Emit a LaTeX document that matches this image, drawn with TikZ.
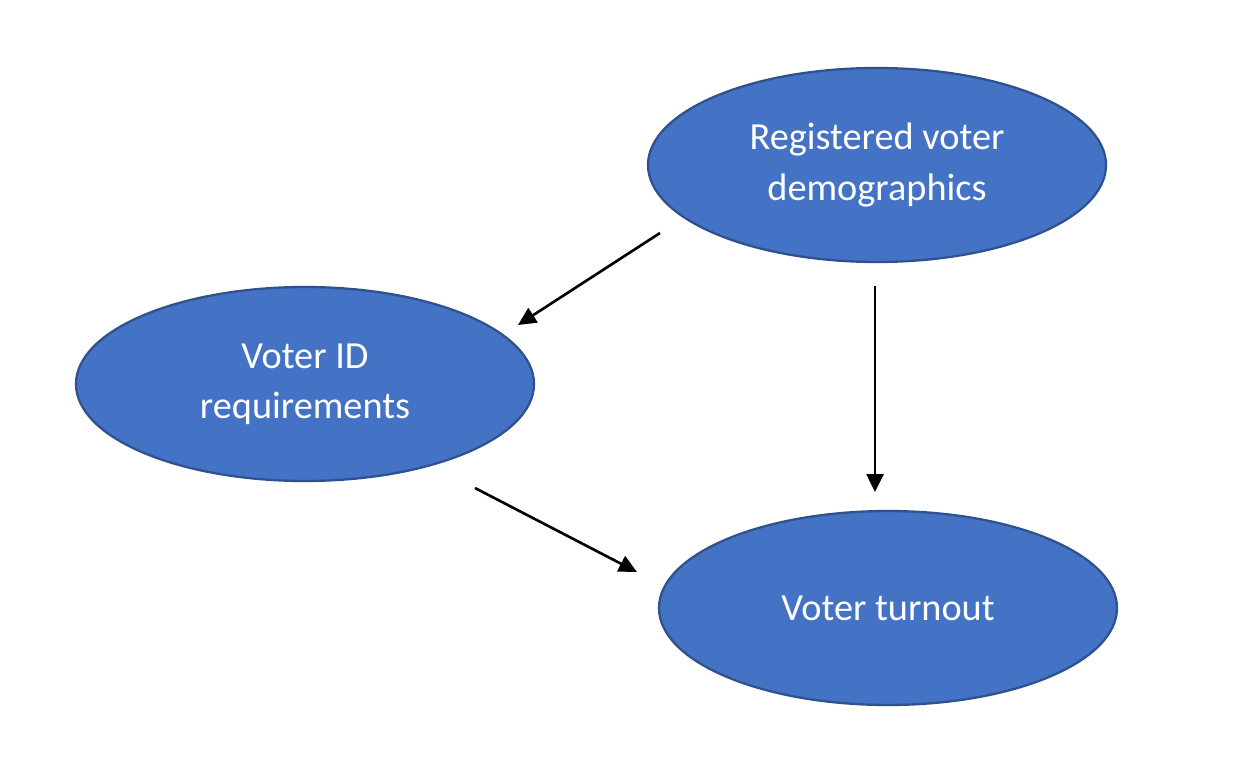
\documentclass[tikz,border=0pt]{standalone}
\usepackage{fontspec}
\setmainfont{Carlito}
\usetikzlibrary{shapes.geometric,arrows.meta}
\definecolor{ovalFill}{HTML}{4472C4}
\definecolor{ovalLine}{HTML}{2F528F}

\begin{document}
\begin{tikzpicture}[node/.style={draw=ovalLine, line width=1.3pt, fill=ovalFill, ellipse,
    minimum width=9.16cm, minimum height=3.88cm, inner sep=0pt, align=center, text=white,
    font=\fontsize{21.8}{28.5}\selectfont},
  link/.style={line width=1.5pt, -{Triangle[length=0.36cm, width=0.34cm]}}]

  \useasboundingbox (0,0) rectangle (24.92,15.26);

  \node [node] (A) at (17.54,11.96) {Registered voter\\demographics};
  \node [node] (B) at (6.10,7.58) {Voter ID\\requirements};
  \node [node] (C) at (17.76,3.10) {Voter turnout};

  \coordinate (A1) at (13.20,10.60);
  \coordinate (B1) at (10.36,8.76);
  \coordinate (A2) at (17.50,9.54);
  \coordinate (C2) at (17.50,5.42);
  \coordinate (B3) at (9.50,5.50);
  \coordinate (C3) at (12.74,3.82);

  \draw [link] (A1) -- (B1);
  \draw [link] (A2) -- (C2);
  \draw [link] (B3) -- (C3);
\end{tikzpicture}
\end{document}
